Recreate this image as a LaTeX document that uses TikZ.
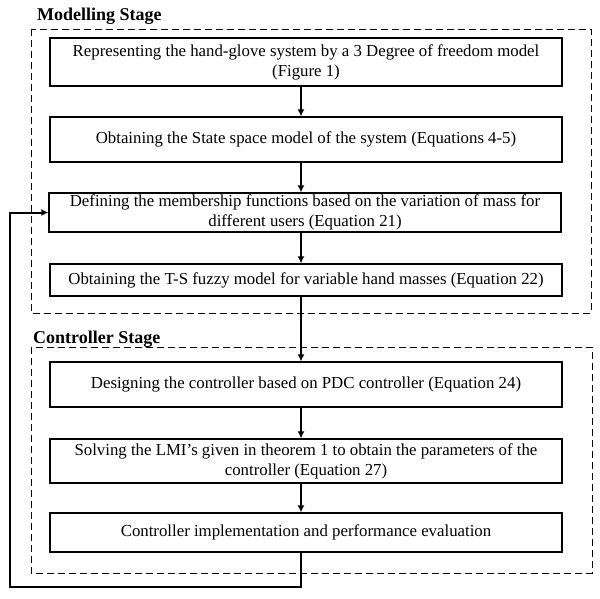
\documentclass[tikz,border=0pt]{standalone}
\usepackage{fontspec}
\setmainfont{Liberation Serif}
\usetikzlibrary{arrows.meta}
\tikzset{
  stagebox/.style={draw,dashed,dash pattern=on 7pt off 4pt,line width=0.9pt},
  stepbox/.style={draw,line width=1.3pt,minimum width=512pt,align=center,
    inner sep=0pt,font=\fontsize{16.8}{20}\selectfont},
  flow/.style={line width=2pt,-{Latex[length=7pt,width=7pt]}},
  stagelabel/.style={anchor=base west,inner sep=0pt,font=\fontsize{18}{20}\selectfont\bfseries}
}
\begin{document}
\begin{tikzpicture}[x=1pt,y=-1pt]
    \useasboundingbox (0,0) rectangle (600,598);
    % stages
    \draw[stagebox] (31,29) rectangle (591,313);
    \draw[stagebox] (31,347) rectangle (592,573);
    \node[stagelabel] (ms) at (37,20) {Modelling Stage};
    \node[stagelabel] (cs) at (33,343) {Controller Stage};
    % steps
    \node[stepbox,minimum height=48pt] (b1) at (306,62)
        {Representing the hand-glove system by a 3 Degree of freedom model\\(Figure 1)};
    \node[stepbox,minimum height=45pt] (b2) at (306,139.5)
        {Obtaining the State space model of the system (Equations 4-5)};
    \node[stepbox,minimum height=39pt] (b3) at (305,212.5)
        {Defining the membership functions based on the variation of mass for\\different users (Equation 21)};
    \node[stepbox,minimum height=32pt] (b4) at (306,280)
        {Obtaining the T-S fuzzy model for variable hand masses (Equation 22)};
    \node[stepbox,minimum height=45pt] (b5) at (306,384.5)
        {Designing the controller based on PDC controller (Equation 24)};
    \node[stepbox,minimum height=44pt] (b6) at (306,461)
        {Solving the LMI's given in theorem 1 to obtain the parameters of the\\controller (Equation 27)};
    \node[stepbox,minimum height=39pt] (b7) at (306,532.5)
        {Controller implementation and performance evaluation};
    % arrows
    \coordinate (spine) at (301,0);
    \foreach \a/\b in {b1/b2,b2/b3,b3/b4,b4/b5,b5/b6,b6/b7}
        \draw[flow] (\a.south -| spine) -- (\b.north -| spine);
    % feedback
    \coordinate (fb) at (10,587);
    \draw[flow] (b7.south -| spine) -- (spine |- fb) -- (fb) |- (b3.west);
\end{tikzpicture}
\end{document}
